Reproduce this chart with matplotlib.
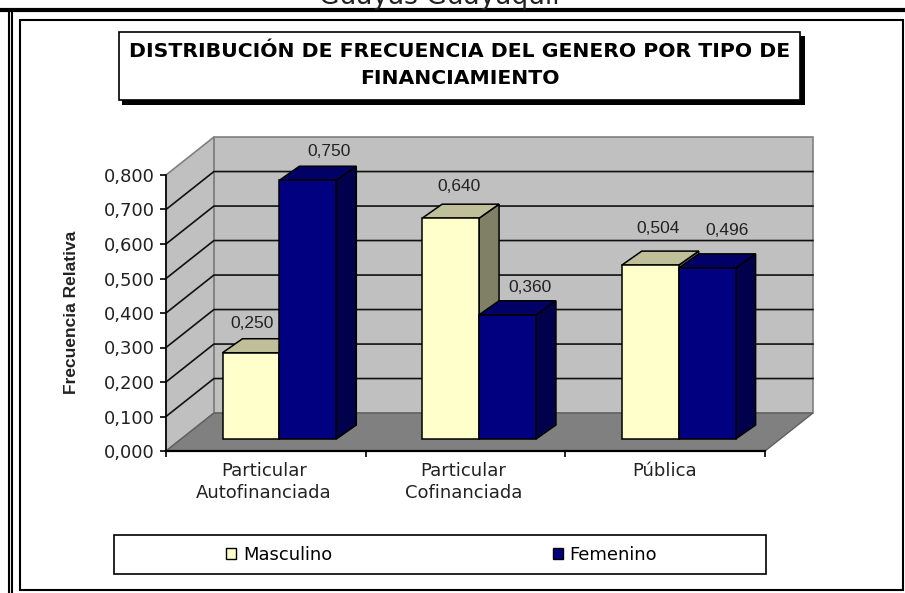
import matplotlib
matplotlib.use("Agg")
import matplotlib.pyplot as plt
from matplotlib.patches import Polygon, Rectangle
from matplotlib.lines import Line2D

plt.rcParams["font.family"] = "DejaVu Sans"

categories = ["Particular\nAutofinanciada", "Particular\nCofinanciada", "Pública"]
masculino = [0.250, 0.640, 0.504]
femenino = [0.750, 0.360, 0.496]
y_ticks = [0.0, 0.1, 0.2, 0.3, 0.4, 0.5, 0.6, 0.7, 0.8]

W, H = 905, 593
SANS = "Liberation Sans"

# depth of the fake 3D box, in data units
WALL_DX, WALL_DY = 0.24, 0.11
BAR_DX, BAR_DY = 0.10, 0.0406
BAR_BASE = 0.0348
BAR_START = 0.283
BAR_W = 0.285

# label nudges in pixels, Excel placed them unevenly
MASC_NUDGE = [(1, 29), (8, 32), (8, 37)]
FEM_NUDGE = [(21, 29), (23, 27), (20, 37)]


def fig_box(x0, y0, x1, y1):
    # pixel box (y down) to figure fractions
    return x0 / W, 1 - y1 / H, (x1 - x0) / W, (y1 - y0) / H


def add_frame(x0, y0, x1, y1, **kw):
    bx, by, bw, bh = fig_box(x0, y0, x1, y1)
    fig.add_artist(Rectangle((bx, by), bw, bh, transform=fig.transFigure, **kw))


def add_line(x0, y0, x1, y1, lw):
    fig.add_artist(Line2D([x0 / W, x1 / W], [1 - y0 / H, 1 - y1 / H], color="black", lw=lw,
                          solid_capstyle="butt"))


def draw_bars(values, offset, nudges, front, top, side, edge="black"):
    for i, v in enumerate(values):
        x0 = i + BAR_START + offset
        x1 = x0 + BAR_W
        y1 = BAR_BASE + v
        ax.add_patch(Polygon([(x1, BAR_BASE), (x1 + BAR_DX, BAR_BASE + BAR_DY), (x1 + BAR_DX, y1 + BAR_DY), (x1, y1)],
                             fc=side, ec=edge, lw=1.1, zorder=4 + offset, clip_on=False))
        ax.add_patch(Polygon([(x0, y1), (x0 + BAR_DX, y1 + BAR_DY), (x1 + BAR_DX, y1 + BAR_DY), (x1, y1)],
                             fc=top, ec=edge, lw=1.1, zorder=4 + offset, clip_on=False))
        ax.bar(x0, v, BAR_W, bottom=BAR_BASE, align="edge", color=front, edgecolor=edge, lw=1.1,
               zorder=4 + offset, clip_on=False)
        ax.text(x0 + BAR_W / 2 + nudges[i][0] / 200, y1 + nudges[i][1] / 345, f"{v:.3f}".replace(".", ","),
                ha="center", va="center", fontsize=12.5, family=SANS, color="#222222", zorder=8)


fig = plt.figure(figsize=(W / 100, H / 100), dpi=100, facecolor="white")

# page frame
fig.text(439 / W, 1 - 4 / H, "Guayas Guayaquil", ha="center", va="baseline", fontsize=19, color="#222222")
add_line(0, 9.5, W, 9.5, 3)
add_line(8.5, 8, 8.5, H, 1.5)
add_line(11.5, 8, 11.5, H, 1.5)
add_frame(19.5, 20, 902.5, 590, fc="none", ec="black", lw=1.5)

# title box
add_frame(122, 36, 805, 105, fc="black", ec="black", lw=0)
add_frame(119, 31.5, 800, 99.5, fc="white", ec="black", lw=1.2)
fig.text(459.5 / W, 1 - 65 / H, "DISTRIBUCIÓN DE FRECUENCIA DEL GENERO POR TIPO DE\nFINANCIAMIENTO",
         ha="center", va="center", fontsize=14.7, fontweight="bold", linespacing=1.5)

ax = fig.add_axes(fig_box(166, 175, 765, 451))
ax.set_xlim(0, 3)
ax.set_ylim(0, 0.8)
ax.patch.set_visible(False)

# walls and floor
ax.add_patch(Polygon([(WALL_DX, WALL_DY), (3 + WALL_DX, WALL_DY), (3 + WALL_DX, 0.8 + WALL_DY), (WALL_DX, 0.8 + WALL_DY)],
                     fc="#c0c0c0", ec="#808080", lw=1.2, zorder=1, clip_on=False))
ax.add_patch(Polygon([(0, 0), (WALL_DX, WALL_DY), (WALL_DX, 0.8 + WALL_DY), (0, 0.8)],
                     fc="#c0c0c0", ec="#808080", lw=1.2, zorder=1, clip_on=False))
ax.add_patch(Polygon([(0, 0), (3, 0), (3 + WALL_DX, WALL_DY), (WALL_DX, WALL_DY)],
                     fc="#808080", ec="#606060", lw=1, zorder=2, clip_on=False))
for t in y_ticks[1:-1]:
    ax.plot([0, WALL_DX, 3 + WALL_DX], [t, t + WALL_DY, t + WALL_DY], color="#111111", lw=1.2, zorder=2.5,
            clip_on=False)

draw_bars(masculino, 0, MASC_NUDGE, "#ffffcc", "#bfbf99", "#808066")
draw_bars(femenino, BAR_W, FEM_NUDGE, "#000080", "#000066", "#00004d")

for name in ["top", "right"]:
    ax.spines[name].set_visible(False)
ax.spines["left"].set_linewidth(1.2)
ax.spines["bottom"].set_linewidth(1.6)
ax.spines["left"].set_zorder(3)
ax.spines["bottom"].set_zorder(3)

ax.set_yticks(y_ticks)
ax.set_yticklabels([f"{t:.3f}".replace(".", ",") for t in y_ticks], fontsize=13, color="#222222")
ax.tick_params(axis="y", length=4, width=1.2, pad=4)
ax.set_xticks([0, 1, 2, 3], minor=True)
ax.set_xticks([0.49, 1.49, 2.495])
ax.set_xticklabels(categories, fontsize=13, color="#222222", linespacing=1.31)
ax.tick_params(axis="x", which="major", length=0, pad=8)
ax.tick_params(axis="x", which="minor", length=4, width=1.2)

fig.text(71 / W, 1 - 312 / H, "Frecuencia Relativa", rotation=90, ha="center", va="center", fontsize=12.5,
         fontweight="bold", family=SANS, color="#222222")

# legend
add_frame(114, 534.5, 765.5, 574, fc="white", ec="black", lw=1.2)
handles = [Rectangle((0, 0), 1, 1, fc="#ffffcc", ec="black", lw=1),
           Rectangle((0, 0), 1, 1, fc="#000080", ec="black", lw=1)]
fig.legend(handles, ["Masculino", "Femenino"], ncol=2, frameon=False, fontsize=12.9,
           loc="center left", bbox_to_anchor=(226 / W, 1 - 554.5 / H), borderaxespad=0, borderpad=0,
           handlelength=0.56, handleheight=0.56, handletextpad=0.39, columnspacing=12.3)

fig.savefig("out.png", dpi=100, facecolor="white")
